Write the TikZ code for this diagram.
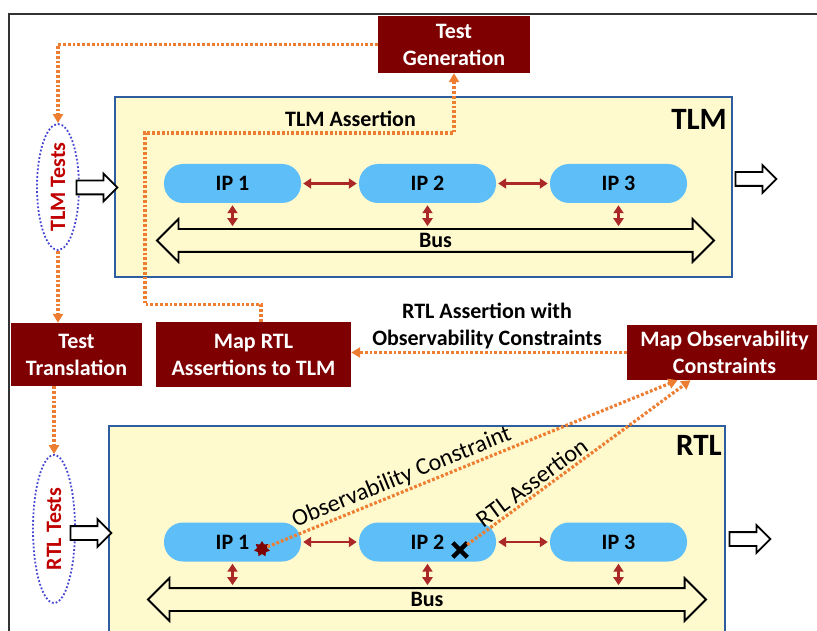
\documentclass[tikz,border=0pt]{standalone}
\usepackage{fontspec}
\setmainfont{Carlito}
\usetikzlibrary{arrows.meta,shapes.geometric,shapes.arrows,shapes.misc}

\definecolor{boxred}{RGB}{127,0,0}
\definecolor{ipblue}{RGB}{94,191,248}
\definecolor{panelyellow}{RGB}{255,249,206}
\definecolor{panelblue}{RGB}{46,94,160}
\definecolor{flowor}{RGB}{237,125,49}
\definecolor{linkred}{RGB}{170,40,40}
\definecolor{dotblue}{RGB}{70,70,210}
\definecolor{testred}{RGB}{192,0,0}

\tikzset{
  bold/.style={font=\bfseries\fontsize{22}{27}\selectfont},
  stepbox/.style={bold, fill=boxred, text=white, align=center, inner sep=0pt},
  ipnode/.style={bold, fill=ipblue, rounded corners=19pt, minimum width=137pt, minimum height=39pt},
  panel/.style={draw=panelblue, fill=panelyellow, line width=1.8pt},
  testsnode/.style={ellipse, draw=dotblue, dotted, line width=1.8pt, minimum width=42pt, inner sep=0pt},
  flow/.style={draw=flowor, line width=3.2pt, dash pattern=on 2.8pt off 2pt, -{Triangle[length=9pt,width=10pt]}},
  link/.style={draw=linkred, line width=2.6pt, shorten <=2pt, shorten >=2pt,
    {Triangle[length=8pt,width=10pt]}-{Triangle[length=8pt,width=10pt]}},
  busarrow/.style={bold, double arrow, draw, line width=1.8pt, inner xsep=0pt, inner ysep=3.5pt,
    text height=14pt, text depth=0pt, double arrow head extend=10pt},
  iobox/.style={single arrow, draw, line width=1.8pt, fill=white, inner xsep=0pt, inner ysep=6pt,
    single arrow head extend=7pt, minimum height=41pt},
  onslope/.style={font=\fontsize{24}{24}\selectfont, sloped, above, inner sep=2pt}
}

\begin{document}
\begin{tikzpicture}[x=1pt,y=-1pt]
\useasboundingbox (0,0) rectangle (817,631);

% ===== frame =====
\draw[line width=1.2pt, black!80] (9,631) -- (9,14) -- (817,14);

% ===== boxes =====
\node[stepbox, minimum width=152pt, minimum height=57pt] (testgen) at (454,44.5) {Test\\Generation};
\node[stepbox, minimum width=131pt, minimum height=63pt] (testtrans) at (76.5,354.5) {Test\\Translation};
\node[stepbox, minimum width=195pt, minimum height=65pt] (maprtl) at (253.5,354.5) {Map RTL\\Assertions to TLM};
\node[stepbox, minimum width=195pt, minimum height=55pt] (mapobs) at (724.5,352.5) {Map Observability\\Constraints};

% ===== TLM and RTL panels =====
\node[panel, minimum width=617pt, minimum height=180pt] (tlmpanel) at (423.5,187) {};
\node[panel, minimum width=616pt, minimum height=234pt] (rtlpanel) at (417,543) {};
\node[font=\bfseries\fontsize{31}{31}\selectfont, anchor=base east, inner sep=0pt] (tlmname) at (727,130) {TLM};
\node[font=\bfseries\fontsize{31}{31}\selectfont, anchor=base east, inner sep=0pt] (rtlname) at (722,455) {RTL};

% ===== tests =====
\node[testsnode, minimum height=126pt,
  label={[bold, rotate=90, text=testred]center:TLM Tests}] (tlmtests) at (58,187) {};
\node[testsnode, minimum height=148pt,
  label={[bold, rotate=90, text=testred]center:RTL Tests}] (rtltests) at (54,529) {};

% ===== in / out arrows =====
\node[iobox] (tlmin) at (93.5,187.5) {};
\node[iobox] (tlmout) at (752.5,179) {};
\node[iobox] (rtlin) at (87.5,533) {};
\node[iobox] (rtlout) at (746.5,539) {};

% ===== buses =====
\node[busarrow, minimum height=557pt] (tbus) at (435.5,240.5) {Bus};
\node[busarrow, minimum height=558pt] (rbus) at (427,599.5) {Bus};

% ===== IPs =====
\foreach \n/\x in {1/232.5,2/427.5,3/618.5} {
  \node[ipnode] (tip\n) at (\x,183.5) {IP \n};
  \node[ipnode] (rip\n) at (\x,542) {IP \n};
  \draw[link] (tip\n.south) -- (tip\n.south |- tbus.north);
  \draw[link] (rip\n.south) -- (rip\n.south |- rbus.north);
}
\draw[link] (tip1) -- (tip2);
\draw[link] (tip2) -- (tip3);
\draw[link] (rip1) -- (rip2);
\draw[link] (rip2) -- (rip3);

% ===== markers =====
\node[star, star points=7, star point ratio=1.6, fill=boxred, minimum size=16pt, inner sep=0pt] (ostar) at (262,549) {};
\node[cross out, draw=black, line width=4.5pt, minimum size=10pt, inner sep=0pt] (rcross) at (460,550) {};

% ===== flows =====
\draw[flow] (testgen.west) -| (tlmtests.north);
\draw[flow] (tlmtests.south) -- (tlmtests.south |- testtrans.north);
\draw[flow] (testtrans.south -| rtltests.north) -- (rtltests.north);
\draw[flow] ([xshift=7.5pt]maprtl.north) -- ++(0,-17) -| (145,133) -| (testgen.south);
\node[bold, anchor=base] (tlmassert) at (350.5,127) {TLM Assertion};
\draw[flow] (mapobs.west) -- (mapobs.west -| maprtl.east);
\node[bold, align=center] (rtlassert) at (487,326) {RTL Assertion with\\Observability Constraints};
\draw[flow] (ostar) -- node[onslope, pos=0.34] {Observability Constraint} ([xshift=-47pt]mapobs.south);
\draw[flow] (rcross) -- node[onslope, pos=0.32] {RTL Assertion} ([xshift=-34pt]mapobs.south);

\end{tikzpicture}
\end{document}
